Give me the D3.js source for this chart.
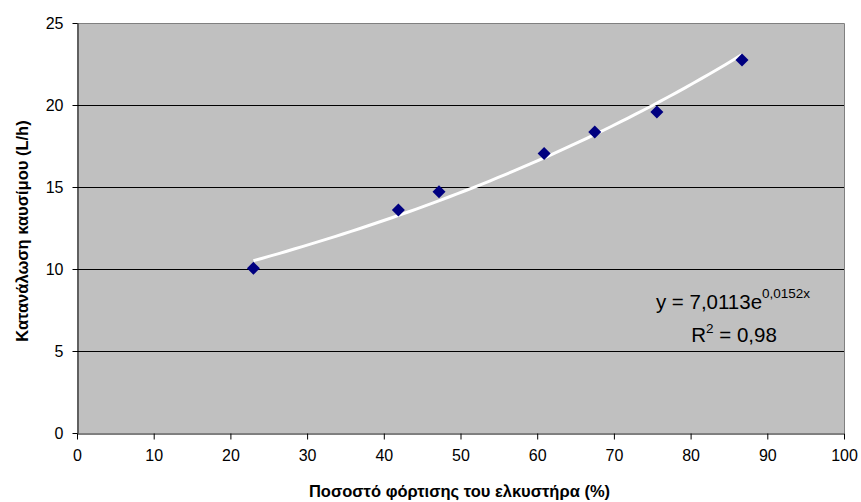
<!DOCTYPE html>
<html>
<head>
<meta charset="utf-8">
<script src="https://cdn.jsdelivr.net/npm/d3@7/dist/d3.min.js"></script>
<style>
  html, body { margin: 0; padding: 0; background: #fff; }
  svg { display: block; font-family: "Liberation Sans", Arial, sans-serif; }
</style>
</head>
<body>
<svg id="chart" width="861" height="502"></svg>
<script>
// Data
const loadPct = [23.0, 41.9, 47.2, 60.9, 67.5, 75.6, 86.7];
const fuel    = [10.04, 13.6, 14.71, 17.05, 18.35, 19.57, 22.74];
const xTicks  = [0, 10, 20, 30, 40, 50, 60, 70, 80, 90, 100];
const yTicks  = [0, 5, 10, 15, 20, 25];
const xTitle = "Ποσοστό φόρτισης του ελκυστήρα (%)";
const yTitle = "Κατανάλωση καυσίμου (L/h)";
const eqMain = "y = 7,0113e";
const eqExp = "0,0152x";
const r2Text = " = 0,98";

const svg = d3.select("#chart");
const m = { left: 77, right: 844, top: 23, bottom: 433 };

const x = d3.scaleLinear().domain([0, 100]).range([m.left, m.right]);
const y = d3.scaleLinear().domain([0, 25]).range([m.bottom, m.top]);

// plot background
svg.append("rect")
  .attr("x", m.left).attr("y", m.top)
  .attr("width", m.right - m.left).attr("height", m.bottom - m.top)
  .attr("fill", "#c0c0c0");

// gridlines
svg.append("g").selectAll("line")
  .data(yTicks.filter(d => d > 0 && d < 25))
  .join("line")
  .attr("x1", m.left).attr("x2", m.right)
  .attr("y1", d => Math.round(y(d)) + 0.5).attr("y2", d => Math.round(y(d)) + 0.5)
  .attr("stroke", "#000").attr("stroke-width", 1);

// top and right border
svg.append("path")
  .attr("d", `M${m.left},${m.top + 0.5}H${m.right + 0.5}V${m.bottom}`)
  .attr("fill", "none").attr("stroke", "#808080").attr("stroke-width", 1);

// axes
const xAxis = svg.append("g")
  .attr("transform", `translate(0,${m.bottom + 0.5})`)
  .call(d3.axisBottom(x).tickValues(xTicks).tickSize(6).tickPadding(10).tickSizeOuter(0));
const yAxis = svg.append("g")
  .attr("transform", `translate(${m.left + 0.5},0)`)
  .call(d3.axisLeft(y).tickValues(yTicks).tickSize(5).tickPadding(9).tickSizeOuter(0));
[xAxis, yAxis].forEach(g => {
  g.select(".domain").attr("stroke", "#000");
  g.selectAll(".tick line").attr("stroke", "#000");
  g.selectAll(".tick text")
    .attr("fill", "#000")
    .attr("font-size", 16)
    .attr("font-family", "Liberation Sans, Arial, sans-serif");
});

// exponential least-squares trendline (fit on ln y)
const n = loadPct.length;
const lnY = fuel.map(Math.log);
const mx = d3.mean(loadPct), ml = d3.mean(lnY);
let sxy = 0, sxx = 0;
for (let i = 0; i < n; i++) { sxy += (loadPct[i] - mx) * (lnY[i] - ml); sxx += (loadPct[i] - mx) ** 2; }
const b = sxy / sxx, lnA = ml - b * mx;
const xs = d3.range(0, 61).map(i => d3.min(loadPct) + (d3.max(loadPct) - d3.min(loadPct)) * i / 60);
svg.append("path")
  .datum(xs)
  .attr("d", d3.line().x(d => x(d)).y(d => y(Math.exp(lnA + b * d))))
  .attr("fill", "none").attr("stroke", "#fff").attr("stroke-width", 3);

// markers
svg.append("g").selectAll("path")
  .data(loadPct.map((d, i) => [d, fuel[i]]))
  .join("path")
  .attr("transform", d => `translate(${x(d[0])},${y(d[1])})`)
  .attr("d", "M0,-6.5L6.5,0L0,6.5L-6.5,0Z")
  .attr("fill", "#000080");

// equation
const eq = svg.append("text")
  .attr("x", 733).attr("y", 309)
  .attr("text-anchor", "middle")
  .attr("font-size", 20.5).attr("fill", "#000");
eq.append("tspan").text(eqMain);
eq.append("tspan").attr("font-size", 13.5).attr("dy", -11).text(eqExp);

const r2 = svg.append("text")
  .attr("x", 734).attr("y", 342)
  .attr("text-anchor", "middle")
  .attr("font-size", 20.5).attr("fill", "#000");
r2.append("tspan").text("R");
r2.append("tspan").attr("font-size", 13.5).attr("dy", -9).text("2");
r2.append("tspan").attr("dy", 9).text(r2Text);

// axis titles
svg.append("text")
  .attr("x", (m.left + m.right) / 2 - 1).attr("y", 497)
  .attr("text-anchor", "middle")
  .attr("font-size", 16.5).attr("font-weight", "bold").attr("fill", "#000")
  .text(xTitle);
svg.append("text")
  .attr("transform", `translate(28,${(m.top + m.bottom) / 2 + 3}) rotate(-90)`)
  .attr("text-anchor", "middle")
  .attr("font-size", 16.5).attr("font-weight", "bold").attr("fill", "#000")
  .text(yTitle);
</script>
</body>
</html>
